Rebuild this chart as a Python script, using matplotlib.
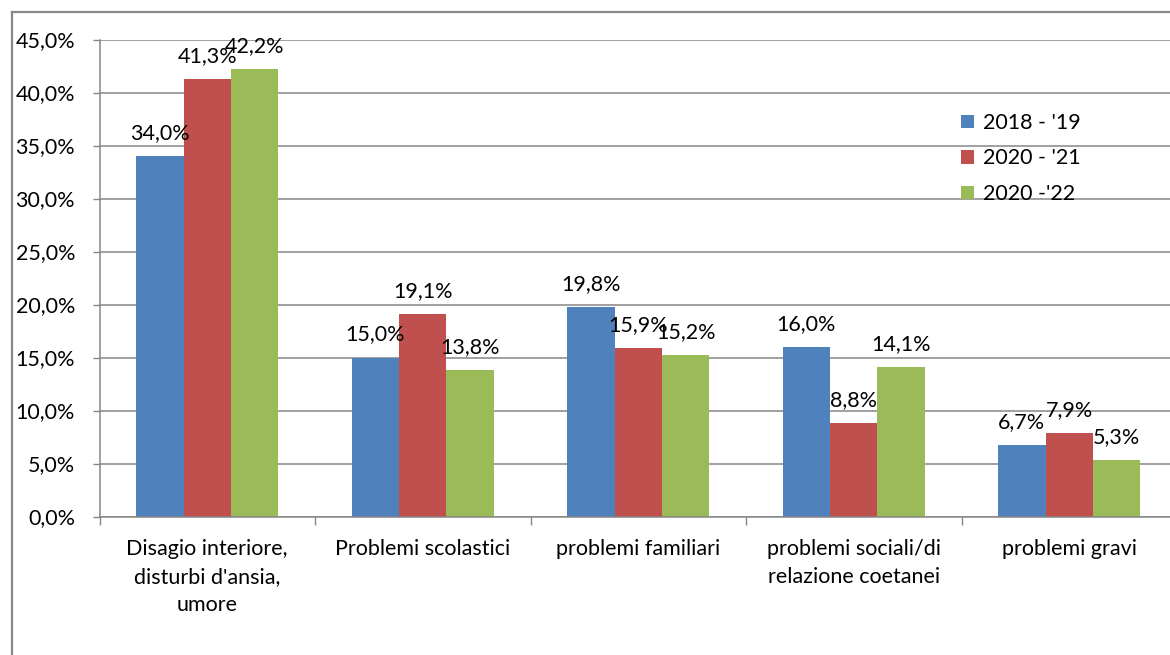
import matplotlib
matplotlib.use("Agg")
import matplotlib.pyplot as plt
from matplotlib.patches import Patch
from matplotlib.lines import Line2D
import numpy as np

# Data
categories = [
    "Disagio interiore,\ndisturbi d'ansia,\numore",
    "Problemi scolastici",
    "problemi familiari",
    "problemi sociali/di\nrelazione coetanei",
    "problemi gravi",
]
series_names = ["2018 - '19", "2020 - '21", "2020 -'22"]
values_2018_19 = [34.0, 15.0, 19.8, 16.0, 6.7]
values_2020_21 = [41.3, 19.1, 15.9, 8.8, 7.9]
values_2020_22 = [42.2, 13.8, 15.2, 14.1, 5.3]
y_ticks = [0, 5, 10, 15, 20, 25, 30, 35, 40, 45]

colors = ["#4F81BD", "#C0504D", "#9BBB59"]
grid_gray = "#868686"

plt.rcParams["font.family"] = ["Lato", "DejaVu Sans"]
FS = 15.5

W, H = 1170, 655
fig = plt.figure(figsize=(W / 100, H / 100), dpi=100)
ax = fig.add_axes([99.5 / W, (H - 516.5) / H, 1077.5 / W, 477 / H])

x = np.arange(len(categories))
bw = 0.2196
series = [values_2018_19, values_2020_21, values_2020_22]

for i, (vals, col, name) in enumerate(zip(series, colors, series_names)):
    bars = ax.bar(x + (i - 1) * bw, vals, bw, color=col, label=name, zorder=2)
    for b, v in zip(bars, vals):
        ax.annotate(f"{v:.1f}%".replace(".", ","),
                    (b.get_x() + b.get_width() / 2, v),
                    xytext=(0, 17 * 0.72), textcoords="offset points",
                    ha="center", va="baseline", fontsize=FS, color="black",
                    zorder=4)

ax.set_xlim(-0.5, len(categories) - 0.5)
ax.set_ylim(0, 45)

# y axis
ax.set_yticks(y_ticks)
ax.set_yticklabels([f"{t:.1f}%".replace(".", ",") for t in y_ticks])
ax.tick_params(axis="y", length=5.4, width=1.0, color=grid_gray, pad=12.2,
               labelsize=FS)
ax.yaxis.grid(True, color=grid_gray, linewidth=1.1, zorder=0)
ax.set_axisbelow(True)

# x axis: ticks at category boundaries, labels at centres
ax.set_xticks(np.arange(-0.5, len(categories), 1.0))
ax.set_xticklabels([])
ax.set_xticks(x, minor=True)
ax.set_xticklabels(categories, minor=True, fontsize=FS, linespacing=1.5)
ax.tick_params(axis="x", which="major", length=5.4, width=1.0,
               color=grid_gray)
ax.tick_params(axis="x", which="minor", length=0, pad=16.5)

for side in ["top", "right"]:
    ax.spines[side].set_visible(False)
for side in ["left", "bottom"]:
    ax.spines[side].set_color(grid_gray)
    ax.spines[side].set_linewidth(1.1)

# Legend
handles = [Patch(facecolor=c, edgecolor="none") for c in colors]
ax.legend(handles, series_names, loc="upper left",
          bbox_to_anchor=(961 / W, (H - 113) / H),
          bbox_transform=fig.transFigure, frameon=False, fontsize=FS,
          handlelength=0.6, handleheight=0.6, handletextpad=0.4,
          labelspacing=0.72, borderpad=0, borderaxespad=0)

# Outer chart frame
fig.add_artist(Line2D([12 / W, 12 / W], [0, (H - 12) / H],
                      transform=fig.transFigure, color="#888888", lw=1.6))
fig.add_artist(Line2D([12 / W, 1], [(H - 12) / H, (H - 12) / H],
                      transform=fig.transFigure, color="#888888", lw=1.6))

fig.savefig("out.png", dpi=100, facecolor="white")
